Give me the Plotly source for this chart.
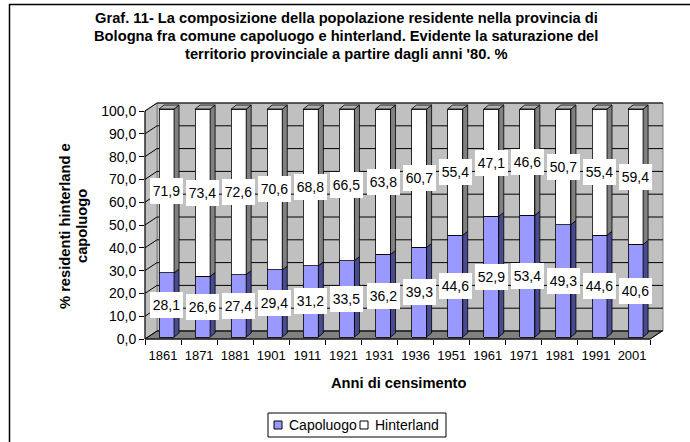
import plotly.graph_objects as go

# ---------------- data ----------------
years = ['1861', '1871', '1881', '1901', '1911', '1921', '1931', '1936',
         '1951', '1961', '1971', '1981', '1991', '2001']
capoluogo = [28.1, 26.6, 27.4, 29.4, 31.2, 33.5, 36.2, 39.3, 44.6, 52.9, 53.4, 49.3, 44.6, 40.6]
hinterland = [71.9, 73.4, 72.6, 70.6, 68.8, 66.5, 63.8, 60.7, 55.4, 47.1, 46.6, 50.7, 55.4, 59.4]
y_ticks = [0, 10, 20, 30, 40, 50, 60, 70, 80, 90, 100]

title_lines = ["Graf. 11- La composizione della popolazione residente nella provincia di",
               "Bologna fra comune capoluogo e hinterland. Evidente la saturazione del",
               "territorio provinciale a partire dagli anni '80. %"]
y_title_lines = ["% residenti hinterland e", "capoluogo"]
x_title = "Anni di censimento"

# ---------------- geometry (pixels) ----------------
WIDTH, HEIGHT = 690, 442
L, R, T, B = 145, 663, 103, 339          # plot area in pixels
PW, PH = R - L, B - T
CAT_PX = 36.08                           # pixels per category
Y_PX = 2.28                              # pixels per percentage unit
WALL_DX, WALL_DY = 12, 8                 # depth of walls
BAR_DX, BAR_DY = 3.5, 2.0                # bar plane offset
BAR_W_PX = 15
BD_DX, BD_DY = 5, 4                      # bar depth

FONT = "Liberation Sans, Arial, sans-serif"
BOLD_SIZE = 14.7


def pxx(x):
    return (x - L) / PW


def pxy(y):
    return (B - y) / PH


xmax = -0.5 + PW / CAT_PX
ymax = PH / Y_PX

fig = go.Figure()

# invisible trace to anchor the front axes
fig.add_trace(go.Scatter(x=years, y=[0] * len(years), mode='markers',
                         marker=dict(opacity=0), hoverinfo='skip', showlegend=False))

idx = list(range(len(years)))
w = BAR_W_PX / CAT_PX
hw = w / 2
ddx = BD_DX / CAT_PX
ddy = BD_DY / Y_PX

fig.add_trace(go.Bar(x=idx, y=capoluogo, xaxis='x2', yaxis='y2', width=w, name='Capoluogo',
                     marker=dict(color='#9999FF', line=dict(color='black', width=0.8)),
                     showlegend=False, hoverinfo='skip'))
fig.add_trace(go.Bar(x=idx, y=hinterland, xaxis='x2', yaxis='y2', width=w, name='Hinterland',
                     marker=dict(color='#FFFFFF', line=dict(color='black', width=0.8)),
                     showlegend=False, hoverinfo='skip'))

# side and top faces of the 3D bars
bx, by, wx, wy, tx, ty = [], [], [], [], [], []
for i, c, h in zip(idx, capoluogo, hinterland):
    top = c + h
    bx += [i + hw, i + hw, i + hw + ddx, i + hw + ddx, i + hw, None]
    by += [0, c, c + ddy, ddy, 0, None]
    wx += [i + hw, i + hw, i + hw + ddx, i + hw + ddx, i + hw, None]
    wy += [c, top, top + ddy, c + ddy, c, None]
    tx += [i - hw, i + hw, i + hw + ddx, i - hw + ddx, i - hw, None]
    ty += [top, top, top + ddy, top + ddy, top, None]

for xs, ys, col in [(bx, by, '#4A4A8E'), (wx, wy, '#808080'), (tx, ty, '#B0B0B0')]:
    fig.add_trace(go.Scatter(x=xs, y=ys, xaxis='x2', yaxis='y2', mode='lines', fill='toself',
                             fillcolor=col, line=dict(color='black', width=0.8),
                             hoverinfo='skip', showlegend=False))

shapes = []
# back wall
shapes.append(dict(type='rect', xref='paper', yref='paper',
                   x0=pxx(L + WALL_DX), x1=pxx(R), y0=pxy(B - WALL_DY), y1=pxy(T),
                   fillcolor='#C0C0C0', line=dict(color='#808080', width=1), layer='below'))
# side wall
y100 = B - 100 * Y_PX
shapes.append(dict(type='path', xref='paper', yref='paper',
                   path=f"M {pxx(L)},{pxy(B)} L {pxx(L)},{pxy(y100)} L {pxx(L + WALL_DX)},{pxy(y100 - WALL_DY)} "
                        f"L {pxx(L + WALL_DX)},{pxy(B - WALL_DY)} Z",
                   fillcolor='#C0C0C0', line=dict(color='#808080', width=1), layer='below'))
# floor
xr_front = L + len(years) * CAT_PX
shapes.append(dict(type='path', xref='paper', yref='paper',
                   path=f"M {pxx(L)},{pxy(B)} L {pxx(xr_front)},{pxy(B)} L {pxx(xr_front + WALL_DX)},{pxy(B - WALL_DY)} "
                        f"L {pxx(L + WALL_DX)},{pxy(B - WALL_DY)} Z",
                   fillcolor='#808080', line=dict(color='#404040', width=1), layer='below'))
# gridlines
for v in y_ticks:
    yf = B - v * Y_PX
    shapes.append(dict(type='line', xref='paper', yref='paper',
                       x0=pxx(L + WALL_DX), x1=pxx(R), y0=pxy(yf - WALL_DY), y1=pxy(yf - WALL_DY),
                       line=dict(color='black', width=1), layer='below'))
    shapes.append(dict(type='line', xref='paper', yref='paper',
                       x0=pxx(L), x1=pxx(L + WALL_DX), y0=pxy(yf), y1=pxy(yf - WALL_DY),
                       line=dict(color='black', width=1), layer='below'))
# front axis lines
for (x0, y0, x1, y1) in [(L, y100, L, B), (L, B, xr_front, B), (xr_front, B, xr_front + WALL_DX, B - WALL_DY)]:
    shapes.append(dict(type='line', xref='paper', yref='paper',
                       x0=pxx(x0), x1=pxx(x1), y0=pxy(y0), y1=pxy(y1),
                       line=dict(color='black', width=1)))
# outer frame
shapes.append(dict(type='line', xref='paper', yref='paper', x0=pxx(9), x1=pxx(720), y0=pxy(4.5), y1=pxy(4.5),
                   line=dict(color='black', width=1.5)))
shapes.append(dict(type='line', xref='paper', yref='paper', x0=pxx(9.5), x1=pxx(9.5), y0=pxy(4), y1=pxy(470),
                   line=dict(color='black', width=1.5)))

# legend (manual)
LG_L, LG_R, LG_T, LG_B = 268, 446, 413, 437
shapes.append(dict(type='rect', xref='paper', yref='paper', x0=pxx(LG_L), x1=pxx(LG_R),
                   y0=pxy(LG_B), y1=pxy(LG_T), fillcolor='white', line=dict(color='black', width=1)))
legend_items = [('Capoluogo', '#9999FF', 274), ('Hinterland', '#FFFFFF', 360)]
annotations = []
for name, col, xs in legend_items:
    shapes.append(dict(type='rect', xref='paper', yref='paper', x0=pxx(xs), x1=pxx(xs + 8),
                       y0=pxy(429), y1=pxy(421), fillcolor=col, line=dict(color='black', width=1)))
    annotations.append(dict(xref='paper', yref='paper', x=pxx(xs + 13), y=pxy(425), text=name,
                            xanchor='left', yanchor='middle', showarrow=False,
                            font=dict(family=FONT, size=14, color='black')))

# data labels
def fmt(v):
    return f"{v:.1f}".replace('.', ',')

for i, c, h in zip(idx, capoluogo, hinterland):
    for yv, v in [(c / 2, c), (c + h / 2, h)]:
        annotations.append(dict(xref='x2', yref='y2', x=i, y=yv, text=fmt(v), showarrow=False,
                                bgcolor='white', width=33, height=26, borderpad=0, borderwidth=0,
                                xanchor='center', yanchor='middle',
                                font=dict(family=FONT, size=14, color='black')))

# titles
for k, line in enumerate(title_lines):
    annotations.append(dict(xref='paper', yref='paper', x=pxx(346), y=pxy(18 + 18 * k),
                            text=f"<b>{line}</b>", showarrow=False, xanchor='center', yanchor='middle',
                            font=dict(family=FONT, size=BOLD_SIZE, color='black')))
for k, line in enumerate(y_title_lines):
    annotations.append(dict(xref='paper', yref='paper', x=pxx(65 + 17 * k), y=pxy(226),
                            text=f"<b>{line}</b>", showarrow=False, textangle=-90,
                            xanchor='center', yanchor='middle',
                            font=dict(family=FONT, size=BOLD_SIZE, color='black')))
annotations.append(dict(xref='paper', yref='paper', x=pxx(398), y=pxy(383),
                        text=f"<b>{x_title}</b>", showarrow=False, xanchor='center', yanchor='middle',
                        font=dict(family=FONT, size=BOLD_SIZE, color='black')))

fig.update_layout(
    width=WIDTH, height=HEIGHT, autosize=False,
    margin=dict(l=L, r=WIDTH - R, t=T, b=HEIGHT - B, autoexpand=False),
    paper_bgcolor='white', plot_bgcolor='rgba(0,0,0,0)',
    barmode='stack', bargap=0, separators=',.',
    showlegend=False,
    font=dict(family=FONT, color='black'),
    xaxis=dict(type='category', categoryorder='array', categoryarray=years,
               range=[-0.5, xmax], tickson='boundaries', ticks='outside', ticklen=5,
               tickangle=0, ticklabelstandoff=7,
               tickcolor='black', showline=False, showgrid=False, zeroline=False,
               tickfont=dict(family=FONT, size=13, color='black'), fixedrange=True),
    yaxis=dict(range=[0, ymax], tickvals=y_ticks, tickformat='.1f', ticks='outside', ticklen=5,
               tickcolor='black', showline=False, showgrid=False, zeroline=False,
               tickfont=dict(family=FONT, size=14, color='black'), fixedrange=True),
    xaxis2=dict(overlaying='x', anchor='y2', range=[-0.5 - BAR_DX / CAT_PX, xmax - BAR_DX / CAT_PX],
                visible=False, fixedrange=True),
    yaxis2=dict(overlaying='y', anchor='x2', range=[-BAR_DY / Y_PX, ymax - BAR_DY / Y_PX],
                visible=False, fixedrange=True),
    shapes=shapes, annotations=annotations,
)

fig.write_html("out.html", config={'displayModeBar': False, 'staticPlot': True},
               post_script="document.body.style.margin='0';document.body.style.padding='0';")
